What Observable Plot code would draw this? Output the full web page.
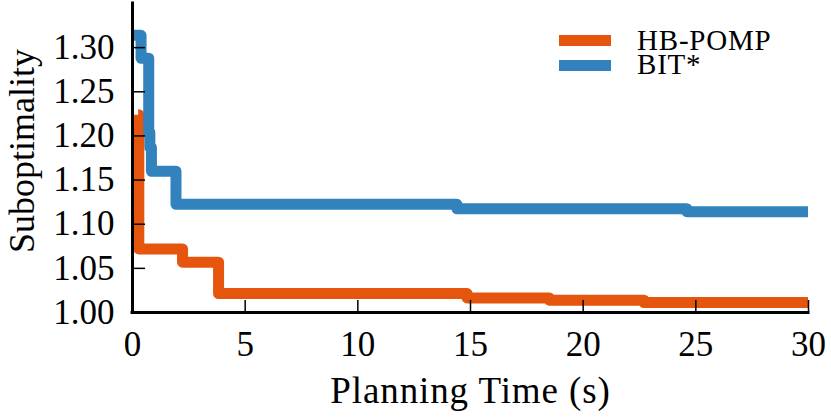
<!DOCTYPE html>
<html>
<head>
<meta charset="utf-8">
<script src="https://cdn.jsdelivr.net/npm/d3@7"></script>
<script src="https://cdn.jsdelivr.net/npm/@observablehq/plot@0.6"></script>
<style>
  body { margin: 0; background: #fff; }
  #chart { width: 831px; height: 417px; }
  #chart svg, #chart svg text { font-family: "Liberation Serif", "Times New Roman", serif !important; }
</style>
</head>
<body>
<div id="chart"></div>
<script>
// ---- data ----
const seriesNames = ["HB-POMP", "BIT*"];
const seriesColors = ["#e6550d", "#3182bd"];

const hbTime    = [0.25, 0.28, 2.22, 3.82, 14.85, 18.5, 22.7, 30];
const hbSubopt  = [1.224, 1.072, 1.057, 1.0215, 1.0165, 1.0139, 1.0113, 1.0113];

const bitTime   = [0, 0.38, 0.72, 0.77, 0.84, 1.93, 14.4, 24.6, 30];
const bitSubopt = [1.314, 1.288, 1.204, 1.187, 1.160, 1.1225, 1.1175, 1.1142, 1.1142];

const xTicks = [0, 5, 10, 15, 20, 25, 30];
const yTicks = [1.00, 1.05, 1.10, 1.15, 1.20, 1.25, 1.30];
const xLabel = "Planning Time (s)";
const yLabel = "Suboptimality";

const rows = [
  ...hbTime.map((t, i) => ({series: seriesNames[0], time: t, value: hbSubopt[i]})),
  ...bitTime.map((t, i) => ({series: seriesNames[1], time: t, value: bitSubopt[i]}))
];

const font = "'Liberation Serif', 'Times New Roman', serif";

const plot = Plot.plot({
  width: 831,
  height: 417,
  marginLeft: 132,
  marginRight: 23,
  marginTop: 3,
  marginBottom: 105,
  style: {fontFamily: font, background: "#fff", color: "#000", overflow: "visible"},
  x: {domain: [0, 30]},
  y: {domain: [1.0, 1.35]},
  color: {domain: seriesNames, range: seriesColors},
  marks: [
    Plot.line(rows, {
      x: "time", y: "value", z: "series", stroke: "series",
      curve: "step-after", strokeWidth: 11,
      strokeLinejoin: "round", strokeLinecap: "butt", clip: true
    }),
    Plot.axisX({ticks: xTicks, tickFormat: d => String(d), tickSize: -12, tickPadding: 31,
      fontSize: 35, strokeWidth: 1.5, label: null}),
    Plot.axisY({ticks: yTicks, tickFormat: d3.format(".2f"), tickSize: -13, tickPadding: 31,
      fontSize: 35, strokeWidth: 1.5, label: null}),
    Plot.ruleX([0], {strokeWidth: 3, strokeLinecap: "square"}),
    Plot.ruleY([1.0], {strokeWidth: 3, strokeLinecap: "square"}),
    Plot.text([xLabel], {frameAnchor: "bottom", dy: 90, lineAnchor: "bottom",
      textAnchor: "middle", fontSize: 37}),
    Plot.text([yLabel], {frameAnchor: "left", dx: -99, dy: -7, rotate: -90,
      textAnchor: "middle", lineAnchor: "bottom", fontSize: 36})
  ]
});

// x label is a touch wider in the reference typeface
d3.select(plot).selectAll("text")
  .filter(function() { return this.textContent === xLabel; })
  .attr("letter-spacing", 0.9);

// legend inside the plot area (top right)
const svg = d3.select(plot);
const lg = svg.append("g")
  .attr("font-size", 29)
  .attr("text-anchor", "start");
seriesNames.forEach((name, i) => {
  lg.append("rect")
    .attr("x", 559).attr("y", 35 + i * 25)
    .attr("width", 52).attr("height", 11)
    .attr("fill", seriesColors[i]);
  lg.append("text")
    .attr("x", 637).attr("y", 50 + i * 24.3)
    .attr("fill", "#000")
    .attr("letter-spacing", 0.8)
    .text(name);
});

document.getElementById("chart").appendChild(plot);
</script>
</body>
</html>
